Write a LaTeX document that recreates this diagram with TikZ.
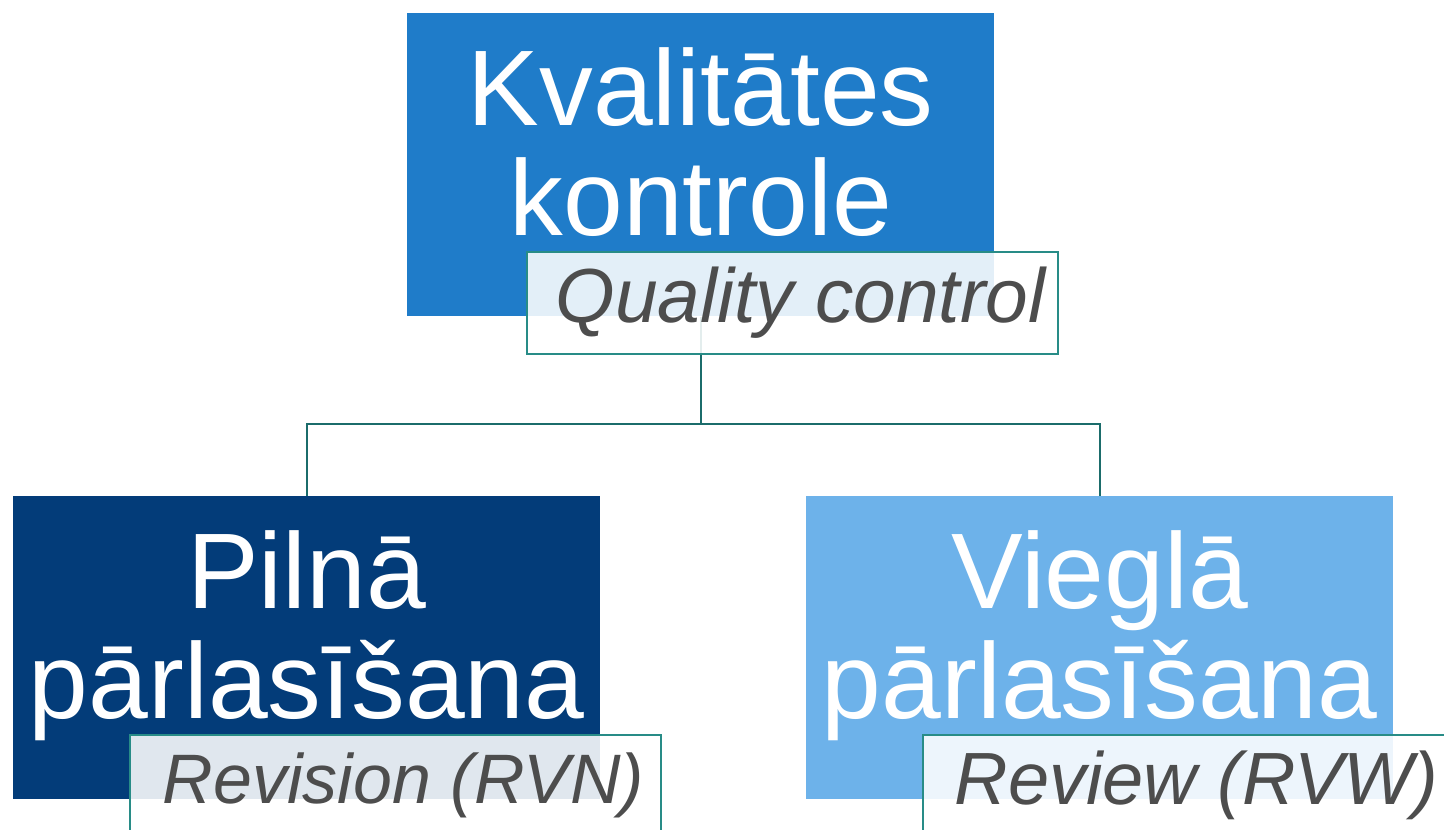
\documentclass[tikz,border=0pt]{standalone}
\usepackage{fontspec}
\setmainfont{Liberation Sans}
\usepackage{xcolor}
\usepackage{tikz}
\usetikzlibrary{
    positioning,
    calc,
}
\definecolor{qcblue}{RGB}{31,124,201}
\definecolor{rvnblue}{RGB}{3,60,121}
\definecolor{rvwblue}{RGB}{109,178,234}
\definecolor{tealedge}{RGB}{40,140,135}
\definecolor{tealline}{RGB}{27,108,107}
\definecolor{labelgray}{RGB}{77,77,77}
\tikzset{
    % Box styles
    box/.style={rectangle, minimum width=587*0.75pt, minimum height=303*0.75pt,
                inner sep=0pt, anchor=north west},
    box text/.style={align=center, text=white, inner sep=0pt,
                     font=\fontsize{80.6}{82.5}\selectfont},
    % Label styles
    tag/.style={rectangle, draw=tealedge, line width=1.5pt, fill=white, fill opacity=0.88,
                minimum width=531*0.75pt, minimum height=102*0.75pt,
                inner sep=0pt, anchor=north west},
    tag text/.style={text=labelgray, text opacity=1, inner sep=0pt, xshift=6pt,
                     font=\fontsize{#1}{#1}\selectfont\itshape},
    % Connector styles
    link/.style={draw=tealline, line width=1.5pt},
}

\begin{document}
\begin{tikzpicture}[x=0.75pt, y=-0.75pt]
    \useasboundingbox (0,0) rectangle (1444,830);

    % Boxes
    \node[box, fill=qcblue] (qc) at (407,13) {};
    \node[box, fill=rvnblue] (rvn) at (13,496) {};
    \node[box, fill=rvwblue] (rvw) at (806,496) {};

    % Box texts
    \node[box text, below=25.5pt of qc.north] (qctext) {Kvalitātes\\kontrole};
    \node[box text, below=25.5pt of rvn.north] (rvntext) {Pilnā\\pārlasīšana};
    \node[box text, below=25.5pt of rvw.north] (rvwtext) {Vieglā\\pārlasīšana};

    % Connectors
    \coordinate (fork) at ($(qc.south)+(0,107)$);
    \draw[link] (qc.south) -- (fork) -| (rvn.north);
    \draw[link] (fork) -| (rvw.north);

    % Labels
    \node[tag, label={[tag text=57.5]center:Quality control}] (qctag)
        at ($(qc.south west)+(119,-66)$) {};
    \node[tag, label={[tag text=52.5]center:Revision (RVN)}] (rvntag)
        at ($(rvn.south west)+(116,-66)$) {};
    \node[tag, label={[tag text=55.5]center:Review (RVW)}] (rvwtag)
        at ($(rvw.south west)+(116,-66)$) {};
\end{tikzpicture}
\end{document}
